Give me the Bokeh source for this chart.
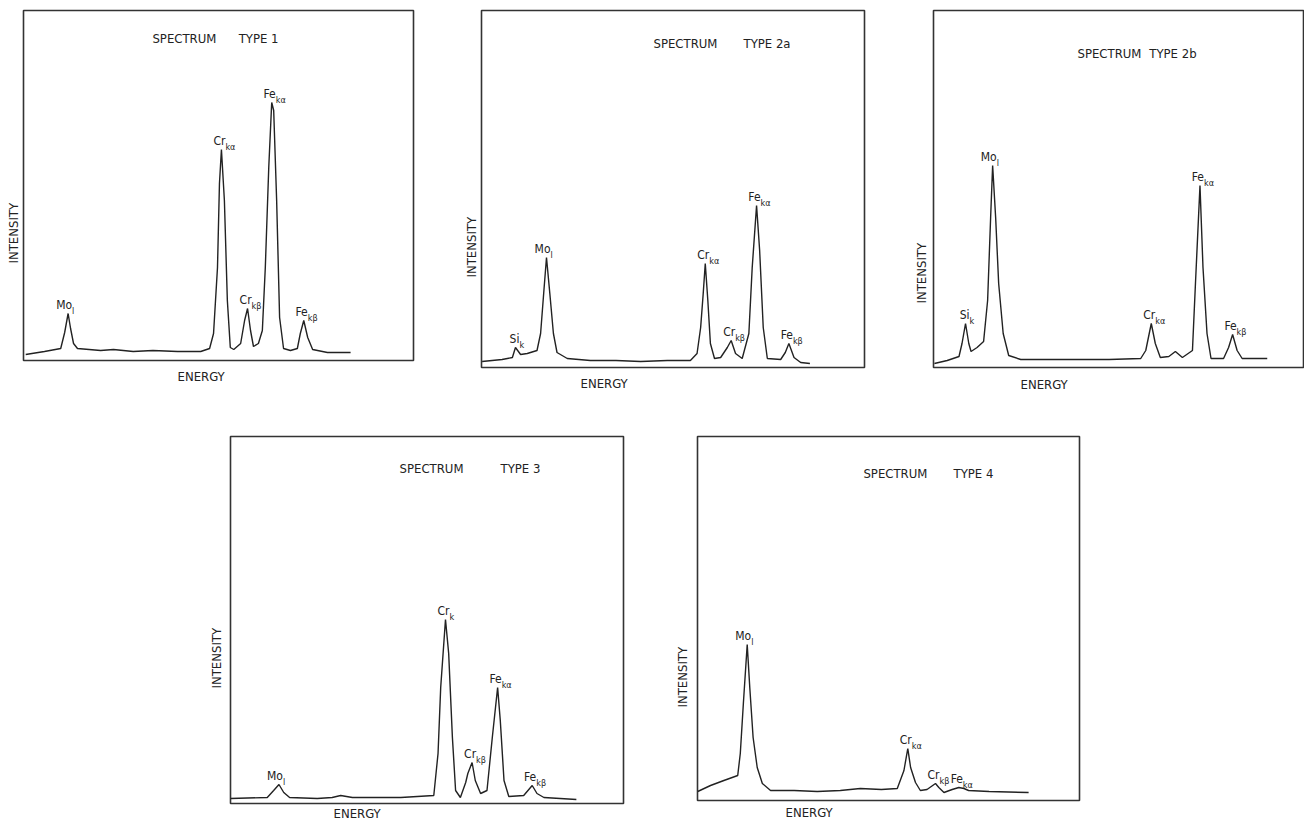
from bokeh.plotting import figure
from bokeh.layouts import column, row
from bokeh.models import Range1d, Title, Spacer
from bokeh.core.properties import value
from bokeh.embed import file_html
from bokeh.resources import INLINE

FONT = "DejaVu Sans Condensed"
INK = "#222222"

# ---------------- data (energy in keV, intensity in arbitrary units) ----
# Spectrum type 1
t1_energy = [1.42, 1.80, 2.13, 2.21, 2.28, 2.33, 2.39, 2.47, 2.94, 3.20, 3.60, 4.00, 4.50, 4.97,
             5.15, 5.23, 5.31, 5.35, 5.39, 5.45, 5.51, 5.57, 5.64, 5.78, 5.86, 5.92, 5.98, 6.04,
             6.14, 6.22, 6.28, 6.35, 6.41, 6.45, 6.51, 6.57, 6.65, 6.79, 6.93, 6.99, 7.06, 7.14,
             7.24, 7.54, 8.01]
t1_counts = [6, 9, 12, 28, 47, 32, 17, 12, 10, 11, 9, 10, 9, 9,
             12, 27, 93, 177, 211, 160, 60, 13, 11, 17, 40, 52, 30, 14,
             17, 30, 93, 193, 258, 250, 160, 43, 12, 10, 12, 27, 40, 23,
             11, 8, 8]
t1_peak_element = ["Mo", "Cr", "Cr", "Fe", "Fe"]
t1_peak_line = ["l", "kα", "kβ", "kα", "kβ"]
t1_peak_energy = [2.28, 5.39, 5.92, 6.41, 7.06]
t1_peak_counts = [47, 211, 52, 258, 40]

# Spectrum type 2a
t2a_energy = [1.09, 1.48, 1.68, 1.74, 1.84, 1.97, 2.16, 2.23, 2.29, 2.345, 2.41, 2.48, 2.55, 2.75,
              3.20, 3.70, 4.18, 4.70, 5.15, 5.28, 5.35, 5.40, 5.44, 5.49, 5.54, 5.62, 5.74, 5.87,
              5.945, 6.03, 6.16, 6.29, 6.355, 6.44, 6.50, 6.57, 6.65, 6.91, 7.00, 7.07, 7.17,
              7.30, 7.48]
t2a_counts = [6, 8, 10, 20, 13, 14, 17, 34, 74, 110, 74, 34, 15, 9,
              7, 7, 6, 7, 7, 14, 40, 74, 104, 67, 24, 9, 10, 20,
              27, 14, 9, 34, 100, 162, 117, 40, 9, 8, 15, 24, 10,
              5, 4]
t2a_peak_element = ["Si", "Mo", "Cr", "Cr", "Fe", "Fe"]
t2a_peak_line = ["k", "l", "kα", "kβ", "kα", "kβ"]
t2a_peak_energy = [1.74, 2.345, 5.44, 5.945, 6.44, 7.07]
t2a_peak_counts = [20, 110, 104, 27, 162, 24]

# Spectrum type 2b
t2b_energy = [1.12, 1.375, 1.61, 1.67, 1.74, 1.805, 1.85, 1.97, 2.10, 2.18, 2.24, 2.28, 2.34, 2.40,
              2.49, 2.60, 2.84, 3.40, 4.03, 4.60, 5.23, 5.33, 5.44, 5.52, 5.62, 5.79, 5.92, 6.06,
              6.26, 6.32, 6.41, 6.47, 6.55, 6.63, 6.88, 6.98, 7.06, 7.15, 7.25, 7.75]
t2b_counts = [4, 7, 11, 24, 44, 24, 16, 20, 26, 67, 150, 202, 150, 84,
              34, 12, 8, 8, 8, 8, 9, 17, 44, 24, 10, 11, 16, 10,
              17, 84, 182, 100, 34, 9, 9, 20, 33, 17, 9, 9]
t2b_peak_element = ["Si", "Mo", "Cr", "Fe", "Fe"]
t2b_peak_line = ["k", "l", "kα", "kα", "kβ"]
t2b_peak_energy = [1.74, 2.28, 5.44, 6.41, 7.06]
t2b_peak_counts = [44, 202, 44, 182, 33]

# Spectrum type 3
t3_energy = [1.39, 2.08, 2.20, 2.30, 2.39, 2.50, 3.02, 3.30, 3.46, 3.68, 4.10, 4.59, 5.21, 5.29,
             5.34, 5.43, 5.49, 5.56, 5.62, 5.71, 5.81, 5.85, 5.93, 5.99, 6.09, 6.21, 6.31, 6.41,
             6.46, 6.53, 6.62, 6.90, 7.06, 7.15, 7.28, 7.89]
t3_counts = [5, 6, 13, 19, 11, 6, 5, 6, 8, 6, 6, 6, 8, 50,
             116, 184, 150, 66, 13, 6, 21, 30, 41, 23, 10, 13, 66, 116,
             83, 23, 7, 8, 18, 10, 6, 4]
t3_peak_element = ["Mo", "Cr", "Cr", "Fe", "Fe"]
t3_peak_line = ["l", "k", "kβ", "kα", "kβ"]
t3_peak_energy = [2.30, 5.43, 5.93, 6.41, 7.06]
t3_peak_counts = [19, 184, 41, 116, 18]

# Spectrum type 4
t4_energy = [1.32, 1.57, 1.83, 2.10, 2.15, 2.21, 2.285, 2.335, 2.40, 2.48, 2.58, 2.74, 3.20, 3.65,
             4.10, 4.49, 4.90, 5.21, 5.34, 5.415, 5.47, 5.565, 5.66, 5.79, 5.955, 6.02, 6.12,
             6.28, 6.41, 6.51, 6.60, 7.00, 7.77]
t4_counts = [9, 15, 20, 25, 47, 97, 156, 113, 63, 33, 17, 10, 10, 9,
             10, 12, 11, 12, 30, 52, 33, 18, 10, 11, 17, 13, 8,
             11, 13, 12, 10, 9, 8]
t4_peak_element = ["Mo", "Cr", "Cr", "Fe"]
t4_peak_line = ["l", "kα", "kβ", "kα"]
t4_peak_energy = [2.285, 5.415, 5.955, 6.41]
t4_peak_counts = [156, 52, 17, 13]

type_labels = ["TYPE 1", "TYPE 2a", "TYPE 2b", "TYPE 3", "TYPE 4"]


def make_panel(energy, counts, el, ln, pe, pc, type_label, s):
    p = figure(frame_width=s["fw"], frame_height=s["fh"],
               min_border_left=s["l"], min_border_right=s["r"],
               min_border_top=s["t"], min_border_bottom=s["b"],
               x_range=Range1d(*s["xr"]), y_range=Range1d(0, s["fh"]),
               x_axis_location=None, y_axis_location=None,
               toolbar_location=None, tools="", output_backend="svg")
    p.grid.grid_line_color = None
    p.grid.visible = False
    p.outline_line_color = "#333333"
    p.outline_line_width = 1.6
    p.background_fill_color = "white"
    p.border_fill_color = "white"
    p.line(energy, counts, line_color=INK, line_width=1.4)
    p.text(x=pe, y=pc, text=el, text_align="right", text_baseline="alphabetic",
           x_offset=4, y_offset=-9, text_font=value(FONT),
           text_font_size=value("12px"), text_color=INK)
    p.text(x=pe, y=pc, text=ln, text_align="left", text_baseline="alphabetic",
           x_offset=4, y_offset=-3, text_font=value(FONT),
           text_font_size=value("9px"), text_color=INK)
    p.text(x=[s["sx"]], y=[s["sy"]], text=["SPECTRUM"], text_align="left",
           text_baseline="middle", text_font=value(FONT),
           text_font_size=value("13px"), text_color=INK)
    p.text(x=[s["tx"]], y=[s["sy"]], text=[type_label], text_align="left",
           text_baseline="middle", text_font=value(FONT),
           text_font_size=value("13px"), text_color=INK)
    p.add_layout(Title(text="INTENSITY", align="left", offset=s["yo"],
                       vertical_align="bottom", standoff=s["ys"], text_font=FONT,
                       text_font_size="13px", text_font_style="normal",
                       text_color=INK), "left")
    p.add_layout(Title(text="ENERGY", align="left", offset=s["xo"],
                       vertical_align="top", standoff=s["xs"], text_font=FONT,
                       text_font_size="13px", text_font_style="normal",
                       text_color=INK), "below")
    return p


specs = [
    dict(fw=390, fh=350, l=23, r=45, t=10, b=54, xr=(1.375, 9.286),
         sx=3.99, tx=5.74, sy=322, yo=97, ys=6, xo=154, xs=16),
    dict(fw=383, fh=357, l=23, r=42, t=10, b=47, xr=(1.078, 8.544),
         sx=4.43, tx=6.185, sy=324, yo=90, ys=6, xo=99, xs=16),
    dict(fw=371, fh=357, l=27, r=0, t=10, b=47, xr=(1.102, 8.492),
         sx=3.97, tx=5.40, sy=314, yo=64, ys=10, xo=87, xs=18),
    dict(fw=393, fh=367, l=31, r=41, t=22, b=22, xr=(1.389, 8.776),
         sx=4.566, tx=6.464, sy=335, yo=115, ys=14, xo=103, xs=4),
    dict(fw=382, fh=364, l=33, r=5, t=22, b=25, xr=(1.316, 8.762),
         sx=4.55, tx=6.306, sy=327, yo=93, ys=16, xo=88, xs=8),
]

panels = [
    make_panel(t1_energy, t1_counts, t1_peak_element, t1_peak_line, t1_peak_energy, t1_peak_counts, type_labels[0], specs[0]),
    make_panel(t2a_energy, t2a_counts, t2a_peak_element, t2a_peak_line, t2a_peak_energy, t2a_peak_counts, type_labels[1], specs[1]),
    make_panel(t2b_energy, t2b_counts, t2b_peak_element, t2b_peak_line, t2b_peak_energy, t2b_peak_counts, type_labels[2], specs[2]),
    make_panel(t3_energy, t3_counts, t3_peak_element, t3_peak_line, t3_peak_energy, t3_peak_counts, type_labels[3], specs[3]),
    make_panel(t4_energy, t4_counts, t4_peak_element, t4_peak_line, t4_peak_energy, t4_peak_counts, type_labels[4], specs[4]),
]

layout = column(
    row(panels[0], panels[1], panels[2], spacing=0),
    row(Spacer(width=199, height=411), panels[3], panels[4], spacing=0),
    spacing=0,
)

open("out.html", "w").write(file_html(layout, INLINE, title="EDX spectra"))
